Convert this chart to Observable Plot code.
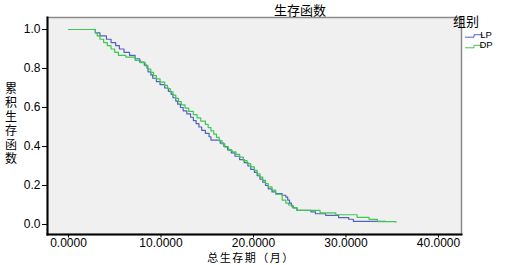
<!DOCTYPE html>
<html><head><meta charset="utf-8">
<script src="https://cdn.jsdelivr.net/npm/d3@7"></script>
<script src="https://cdn.jsdelivr.net/npm/@observablehq/plot@0.6"></script>
<style>html,body{margin:0;padding:0;overflow:hidden;background:#fff}</style>
</head><body><div id="chart"></div>
<script>
const groups = ["LP", "DP"];
const groupColors = ["#4f62c2", "#3fc84f"];
const xTicks = [0, 10, 20, 30, 40];
const yTicks = [0, 0.2, 0.4, 0.6, 0.8, 1.0];
const titleText = "生存函数";
const xLabel = "总生存期（月）";
const yLabel = "累积生存函数";
const legendTitle = "组别";

const lpTime = [0, 2.8, 2.9, 3.4, 4.1, 4.6, 5.1, 5.5, 6.0, 6.6, 7.2, 7.7, 8.2, 8.5, 8.6, 8.9, 9.1, 9.5, 9.9, 10.4, 10.8, 11.1, 11.3, 11.6, 11.8, 12.1, 12.4, 12.8, 13.2, 13.5, 13.8, 14.1, 14.4, 14.8, 15.2, 15.4, 16.4, 16.8, 17.2, 17.6, 18.0, 18.5, 19.0, 19.4, 19.7, 20.1, 20.4, 20.7, 21.0, 21.3, 21.6, 22.0, 22.4, 23.1, 23.5, 23.7, 23.9, 24.1, 24.3, 24.7, 26.2, 26.7, 27.8, 29.2, 30.3, 30.8, 34.3];
const lpSurv = [1.0, 1.0, 0.983, 0.967, 0.95, 0.933, 0.917, 0.9, 0.883, 0.867, 0.85, 0.833, 0.817, 0.8, 0.783, 0.767, 0.75, 0.733, 0.717, 0.7, 0.683, 0.667, 0.65, 0.633, 0.617, 0.6, 0.583, 0.567, 0.55, 0.533, 0.517, 0.5, 0.483, 0.467, 0.45, 0.433, 0.417, 0.4, 0.383, 0.367, 0.35, 0.333, 0.317, 0.3, 0.283, 0.267, 0.25, 0.233, 0.217, 0.2, 0.183, 0.167, 0.158, 0.15, 0.14, 0.125, 0.11, 0.095, 0.085, 0.072, 0.065, 0.055, 0.047, 0.035, 0.027, 0.016, 0.016];

const dpTime = [0, 2.8, 2.9, 3.1, 3.4, 3.8, 4.2, 4.6, 5.0, 5.4, 6.2, 7.2, 7.8, 8.3, 8.6, 8.9, 9.2, 9.5, 9.9, 10.4, 10.7, 11.0, 11.3, 11.6, 11.9, 12.2, 12.6, 13.0, 13.5, 13.9, 14.3, 14.8, 15.1, 15.4, 15.7, 16.0, 16.3, 16.6, 16.9, 17.3, 17.7, 18.1, 18.5, 18.9, 19.3, 19.7, 20.1, 20.4, 20.7, 21.0, 21.3, 21.6, 22.0, 22.4, 23.1, 23.5, 23.8, 24.2, 24.7, 27.2, 28.9, 31.2, 32.5, 33.4, 35.4];
const dpSurv = [1.0, 1.0, 0.983, 0.967, 0.95, 0.933, 0.917, 0.9, 0.883, 0.867, 0.858, 0.842, 0.83, 0.813, 0.797, 0.78, 0.763, 0.747, 0.73, 0.713, 0.697, 0.68, 0.663, 0.647, 0.63, 0.613, 0.597, 0.58, 0.563, 0.547, 0.53, 0.513, 0.497, 0.48, 0.463, 0.447, 0.43, 0.413, 0.397, 0.38, 0.372, 0.36, 0.345, 0.328, 0.312, 0.295, 0.278, 0.26, 0.243, 0.226, 0.21, 0.193, 0.176, 0.155, 0.125, 0.11, 0.1, 0.087, 0.072, 0.06, 0.05, 0.037, 0.026, 0.015, 0.012];

const rows = [
  ...lpTime.map((t, i) => ({group: groups[0], t, s: lpSurv[i]})),
  ...dpTime.map((t, i) => ({group: groups[1], t, s: dpSurv[i]}))
];

const W = 505, H = 265;
const plot = Plot.plot({
  width: W, height: H,
  marginLeft: 47, marginRight: 44, marginTop: 17, marginBottom: 31,
  style: {fontFamily: "'Liberation Sans', Arial, sans-serif", fontSize: "12px", color: "#000", background: "#fff"},
  x: {domain: [-2.27, 42.49]},
  y: {domain: [-0.0513, 1.0615]},
  color: {domain: groups, range: groupColors},
  marks: [
    Plot.frame({fill: "#f0f0f0", stroke: "#8a8a8a", strokeWidth: 1.5}),
    Plot.axisX({ticks: xTicks, tickFormat: d3.format(".4f"), tickSize: 3.5, tickPadding: 0, label: null, fontSize: 12, stroke: "#000"}),
    Plot.axisY({ticks: yTicks, tickFormat: d3.format(".1f"), tickSize: 5, tickPadding: 2, label: null, fontSize: 12, stroke: "#000"}),
    Plot.frame({anchor: "left", stroke: "#000", strokeWidth: 2}),
    Plot.frame({anchor: "bottom", stroke: "#000", strokeWidth: 2}),
    Plot.line(rows, {x: "t", y: "s", z: "group", stroke: "group", curve: "step-after", strokeWidth: 1.2})
  ]
});
document.getElementById("chart").appendChild(plot);

const svg = d3.select(plot);
const cjk = "'Noto Sans CJK SC', sans-serif";
svg.append("text").attr("x", 300).attr("y", 15).attr("text-anchor", "middle")
  .attr("font-family", cjk).attr("font-size", 13).attr("fill", "#000").text(titleText);
svg.append("text").attr("x", 251).attr("y", 261.6).attr("text-anchor", "middle")
  .attr("font-family", cjk).attr("font-size", 11).attr("fill", "#000")
  .style("letter-spacing", "1.5px").text(xLabel);
svg.append("text").attr("x", 11).attr("y", 124)
  .attr("font-family", cjk).attr("font-size", 12).attr("fill", "#000")
  .style("writing-mode", "vertical-rl").style("text-orientation", "upright")
  .style("letter-spacing", "2px").text(yLabel);
svg.append("text").attr("x", 466).attr("y", 26)
  .attr("font-family", cjk).attr("font-size", 13).attr("fill", "#000").text(legendTitle);
groups.forEach((g, i) => {
  const y = 37.2 + i * 10.6;
  svg.append("path").attr("d", `M465,${y}H474V${y-2.5}H482V${y-1}`)
    .attr("fill", "none").attr("stroke", groupColors[i]).attr("stroke-width", 1);
  svg.append("text").attr("x", 486).attr("y", y + 0.5).attr("font-family", "'Liberation Sans', Arial, sans-serif")
    .attr("font-size", 9.5).attr("fill", "#000").text(g);
});
</script></body></html>
